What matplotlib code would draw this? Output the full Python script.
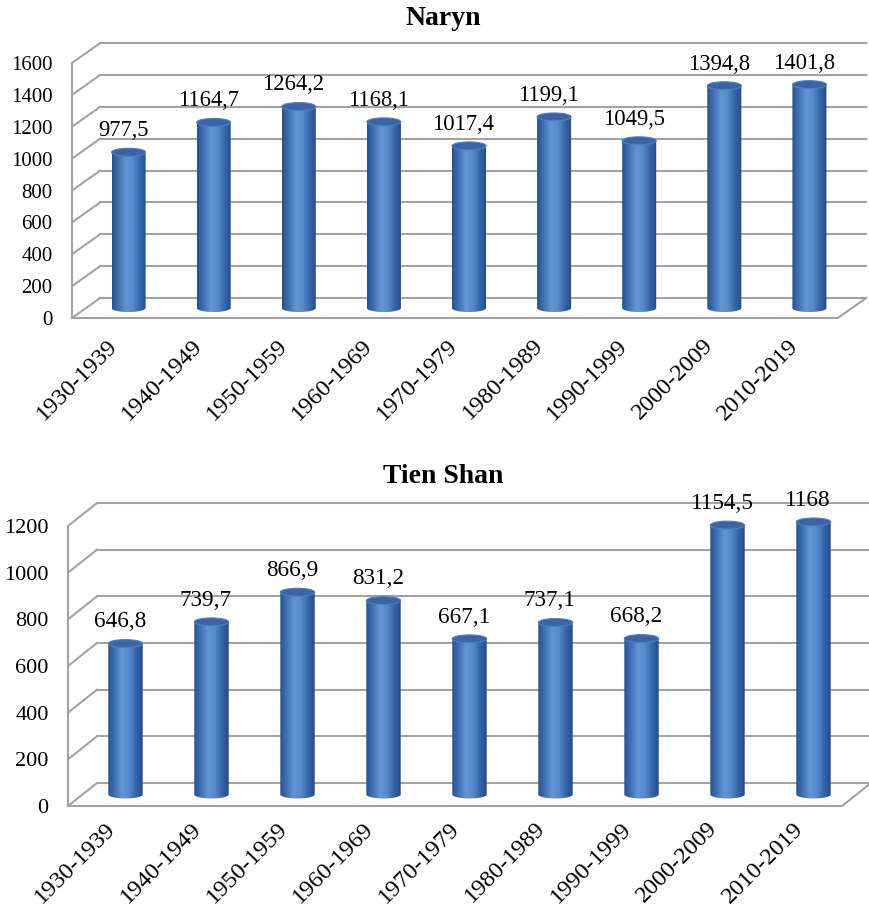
import numpy as np
import matplotlib.pyplot as plt
from matplotlib.colors import LinearSegmentedColormap
from matplotlib.patches import Ellipse, Polygon
from matplotlib.transforms import ScaledTranslation

plt.rcParams['font.family'] = ['Liberation Serif', 'DejaVu Serif']

periodos = ['1930-1939', '1940-1949', '1950-1959', '1960-1969', '1970-1979',
            '1980-1989', '1990-1999', '2000-2009', '2010-2019']

naryn = [977.5, 1164.7, 1264.2, 1168.1, 1017.4, 1199.1, 1049.5, 1394.8, 1401.8]
tien_shan = [646.8, 739.7, 866.9, 831.2, 667.1, 737.1, 668.2, 1154.5, 1168]

ticks_naryn = [0, 200, 400, 600, 800, 1000, 1200, 1400, 1600]
ticks_tien = [0, 200, 400, 600, 800, 1000, 1200]

W, H = 869, 910
gris = '#a3a3a3'

# degradado horizontal para dar aspecto de cilindro
cmap_cil = LinearSegmentedColormap.from_list(
    'cil', ['#27528f', '#4173b6', '#6394d3', '#5889cb', '#3666a9', '#244b8b'])


def formato(v):
    return f'{v:g}'.replace('.', ',')


def dibujar_panel(fig, caja, titulo, valores, ticks, ymax, prof_x, prof_y, alto_elipse,
                  y_titulo, fs_y, fs_val, desplaza_x):
    # caja en pixeles: (izq, der, y_cero, y_arriba)
    izq, der, y0, y1 = caja
    ax = fig.add_axes([izq / W, 1 - y0 / H, (der - izq) / W, (y0 - y1) / H])
    n = len(valores)
    for s in ax.spines.values():
        s.set_visible(False)

    # pared del fondo: lineas horizontales y diagonales hacia el eje frontal
    for t in ticks:
        ax.plot([-0.5 + prof_x, n - 0.5 + prof_x], [t + prof_y, t + prof_y],
                color=gris, lw=1.5, clip_on=False, zorder=1)
        ax.plot([-0.5, -0.5 + prof_x], [t, t + prof_y], color=gris, lw=1.5,
                clip_on=False, zorder=1)
    # eje vertical frontal y piso
    ax.plot([-0.5, -0.5], [0, ticks[-1]], color=gris, lw=1.5, clip_on=False, zorder=1)
    ax.plot([-0.5, n - 0.5, n - 0.5 + prof_x], [0, 0, prof_y], color=gris, lw=1.5,
            clip_on=False, zorder=1)

    # cilindros
    grad = np.linspace(0, 1, 64).reshape(1, -1)
    mitad = 0.2
    t_ang = np.linspace(np.pi, 2 * np.pi, 40)
    for i, v in enumerate(valores):
        cx = i + prof_x / 2
        base = prof_y / 2
        tope = v + prof_y / 2
        xs = cx + mitad * np.cos(t_ang)
        ys = base + alto_elipse / 2 * np.sin(t_ang)
        puntos = [(cx - mitad, tope)] + list(zip(xs, ys)) + [(cx + mitad, tope)]
        cuerpo = Polygon(puntos, closed=True, facecolor='none', edgecolor='none')
        ax.add_patch(cuerpo)
        img = ax.imshow(grad, cmap=cmap_cil, aspect='auto', zorder=2,
                        extent=[cx - mitad, cx + mitad, base - alto_elipse, tope])
        img.set_clip_path(cuerpo)
        ax.add_patch(Ellipse((cx, tope), 2 * mitad, alto_elipse, facecolor='#3a64a5',
                             edgecolor='#5080c0', lw=0.8, zorder=3))
        ax.annotate(formato(v), (cx, tope), xytext=(-4, 8), textcoords='offset points',
                    ha='center', va='bottom', fontsize=fs_val, zorder=4)

    ax.set_xlim(-0.5, n - 0.5 + prof_x)
    ax.set_ylim(0, ymax)
    ax.set_yticks(ticks)
    ax.set_yticklabels([str(t) for t in ticks], fontsize=fs_y)
    ax.set_xticks(range(n))
    ax.set_xticklabels(periodos, rotation=45, ha='right', rotation_mode='anchor', fontsize=17.5)
    ax.tick_params(axis='both', length=0)
    ax.tick_params(axis='y', pad=14)
    ax.tick_params(axis='x', pad=13)
    dx, dy = desplaza_x
    for lab in ax.get_xticklabels():
        lab.set_transform(lab.get_transform() + ScaledTranslation(dx / 100, dy / 100, fig.dpi_scale_trans))

    fig.text(443 / W, 1 - y_titulo / H, titulo, ha='center', va='baseline',
             fontsize=20, fontweight='bold')
    return ax


fig = plt.figure(figsize=(W / 100, H / 100), dpi=100)

dibujar_panel(fig, (72, 838 + 28, 318, 40), 'Naryn', naryn, ticks_naryn,
              1600 * 278 / 255, 0.33, 125, 50, 25, 15, 16.3, (-8, 1))
dibujar_panel(fig, (68, 842 + 29, 806, 500), 'Tien Shan', tien_shan, ticks_tien,
              1200 * 306 / 280, 0.337, 98.6, 34, 483, 16, 16.7, (-6, 6))

fig.savefig('out.png', dpi=100)
